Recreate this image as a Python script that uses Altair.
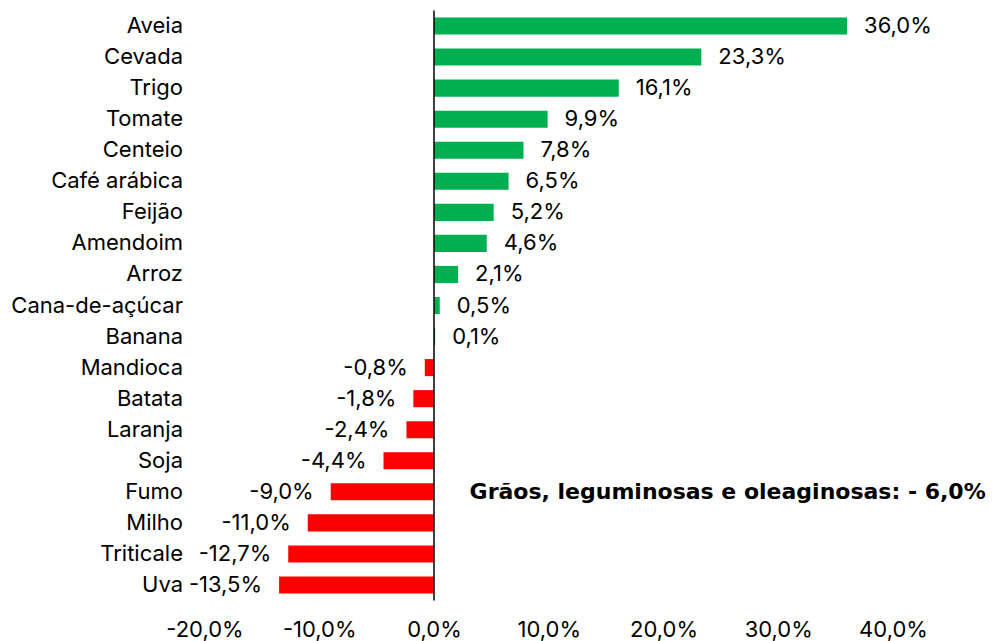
import altair as alt
import pandas as pd

categories = ["Aveia", "Cevada", "Trigo", "Tomate", "Centeio", "Café arábica", "Feijão",
              "Amendoim", "Arroz", "Cana-de-açúcar", "Banana", "Mandioca", "Batata",
              "Laranja", "Soja", "Fumo", "Milho", "Triticale", "Uva"]
values = [36.0, 23.3, 16.1, 9.9, 7.8, 6.5, 5.2, 4.6, 2.1, 0.5, 0.1, -0.8, -1.8,
          -2.4, -4.4, -9.0, -11.0, -12.7, -13.5]
x_ticks = [-20, -10, 0, 10, 20, 30, 40]
annotation = "Grãos, leguminosas e oleaginosas: - 6,0%"

df = pd.DataFrame({"cat": categories, "val": values})
df["label"] = [f"{v:.1f}%".replace(".", ",") for v in values]
df["pos"] = df["val"] >= 0

FONT = "Inter"
FS = 22

y = alt.Y("cat:N", sort=categories, title=None,
          scale=alt.Scale(paddingInner=0.45, paddingOuter=0.225),
          axis=alt.Axis(domain=False, ticks=False, labelFontSize=FS, labelFont=FONT,
                        labelColor="#000000", labelPadding=22, grid=False))
x = alt.X("val:Q", title=None,
          scale=alt.Scale(domain=[-20, 40], nice=False),
          axis=alt.Axis(values=x_ticks, domain=False, ticks=False, grid=False,
                        labelFlush=False, labelOverlap=False,
                        labelExpr="replace(replace(format(datum.value, '.1f'), '.', ','), '\u2212', '-') + '%'",
                        labelFont=FONT, labelFontSize=FS,
                        labelColor="#000000", labelPadding=19))

bars = alt.Chart(df).mark_bar().encode(
    x=x, y=y,
    color=alt.Color("pos:N", scale=alt.Scale(domain=[True, False], range=["#00B050", "#FF0000"]), legend=None),
)

pos_text = alt.Chart(df[df["pos"]]).mark_text(align="left", dx=17, fontSize=FS, font=FONT, color="#000000").encode(
    x="val:Q", y=alt.Y("cat:N", sort=categories), text="label:N")
neg_text = alt.Chart(df[~df["pos"]]).mark_text(align="right", dx=-17, fontSize=FS, font=FONT, color="#000000").encode(
    x="val:Q", y=alt.Y("cat:N", sort=categories), text="label:N")

zero = alt.Chart(pd.DataFrame({"z": [0]})).mark_rule(color="#000000", strokeWidth=1.5).encode(x="z:Q")

ann = alt.Chart(pd.DataFrame({"x": [3.1], "cat": ["Fumo"], "t": [annotation]})).mark_text(
    align="left", fontSize=22, fontWeight="bold", font="DejaVu Sans", color="#000000").encode(
    x="x:Q", y=alt.Y("cat:N", sort=categories), text="t:N")

chart = alt.layer(bars, zero, pos_text, neg_text, ann).properties(
    width=688.5, height=590,
    autosize=alt.AutoSizeParams(type="none"),
    padding={"left": 196.5, "top": 2.5, "right": 98, "bottom": 50},
    background="#ffffff",
).configure_view(stroke=None, strokeWidth=0)

chart.save("out.html", embed_options={"renderer": "svg", "actions": False})
